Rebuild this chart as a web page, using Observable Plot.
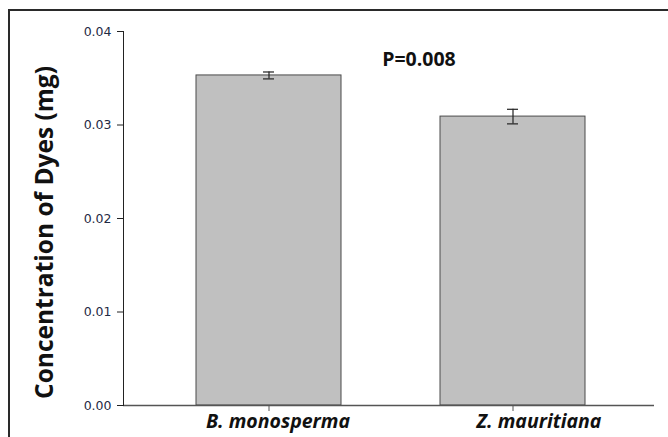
<!DOCTYPE html>
<html>
<head>
<meta charset="utf-8">
<script src="https://cdn.jsdelivr.net/npm/d3@7"></script>
<script src="https://cdn.jsdelivr.net/npm/@observablehq/plot@0.6"></script>
<style>
  html, body { margin: 0; padding: 0; background: #fff; overflow: hidden; width: 668px; height: 437px; }
  #wrap { position: relative; width: 668px; height: 437px; }
  #border { position: absolute; left: 8px; top: 9px; width: 700px; height: 500px; border: 2px solid #2a2a2a; box-sizing: border-box; }
  #chart { position: absolute; left: 0; top: 0; }
</style>
</head>
<body>
<div id="wrap"><div id="border"></div><div id="chart"></div></div>
<script>
const species = ["B. monosperma", "Z. mauritiana"];
const means = [0.0353, 0.0309];
const errors = [0.00037, 0.00078];
const yTicks = [0, 0.01, 0.02, 0.03, 0.04];
const annotation = "P=0.008";
const yLabel = "Concentration of Dyes (mg)";

const data = species.map((s, i) => ({species: s, mean: means[i], lo: means[i] - errors[i], hi: means[i] + errors[i]}));

const xLabelStyle = {tickSize: 0, tickPadding: 9, fontSize: 19.5, fontWeight: "bold", fontStyle: "italic", fontFamily: "'Open Sans', sans-serif", label: null, fill: "#111"};

const chart = Plot.plot({
  width: 668,
  height: 437,
  marginLeft: 123,
  marginRight: 14,
  marginTop: 31,
  marginBottom: 32,
  style: {background: "transparent", color: "#222", fontFamily: "'DejaVu Sans', sans-serif"},
  x: {domain: species, range: [146.5, 634.5], paddingInner: 0.406, paddingOuter: 0.203, label: null},
  y: {domain: [0, 0.04], label: null},
  marks: [
    Plot.barY(data, {x: "species", y: "mean", fill: "#c0c0c0", stroke: "#4a4a4a", strokeWidth: 1}),
    Plot.ruleX(data, {x: "species", y1: "lo", y2: "hi", stroke: "#222", strokeWidth: 1.2}),
    Plot.tickY(data, {x: "species", y: "lo", stroke: "#222", strokeWidth: 1.2, insetLeft: 67, insetRight: 67}),
    Plot.tickY(data, {x: "species", y: "hi", stroke: "#222", strokeWidth: 1.2, insetLeft: 67, insetRight: 67}),
    Plot.ruleY([0], {stroke: "#555", strokeWidth: 1.5}),
    Plot.frame({anchor: "left", stroke: "#222", strokeWidth: 1}),
    Plot.axisY({ticks: yTicks, tickFormat: d3.format(".2f"), tickSize: 6, tickPadding: 6, fontSize: 12.5, label: null, stroke: "#222", fill: "#1f2a44"}),
    Plot.axisX({tickSize: 6, tickFormat: () => "", label: null, stroke: "#555"}),
    Plot.axisX([species[0]], {...xLabelStyle, dx: 9}),
    Plot.axisX([species[1]], {...xLabelStyle, dx: 26}),
    Plot.text([annotation], {frameAnchor: "top", dx: 30, dy: 21, fontSize: 19.5, fontWeight: "bold", fontFamily: "'Open Sans', sans-serif", fill: "#111"}),
    Plot.text([yLabel], {frameAnchor: "left", textAnchor: "middle", dx: -78, dy: 14, rotate: -90, fontSize: 24.5, fontWeight: "bold", fontFamily: "'Open Sans', sans-serif", fill: "#111"})
  ]
});
document.getElementById("chart").appendChild(chart);
</script>
</body>
</html>
